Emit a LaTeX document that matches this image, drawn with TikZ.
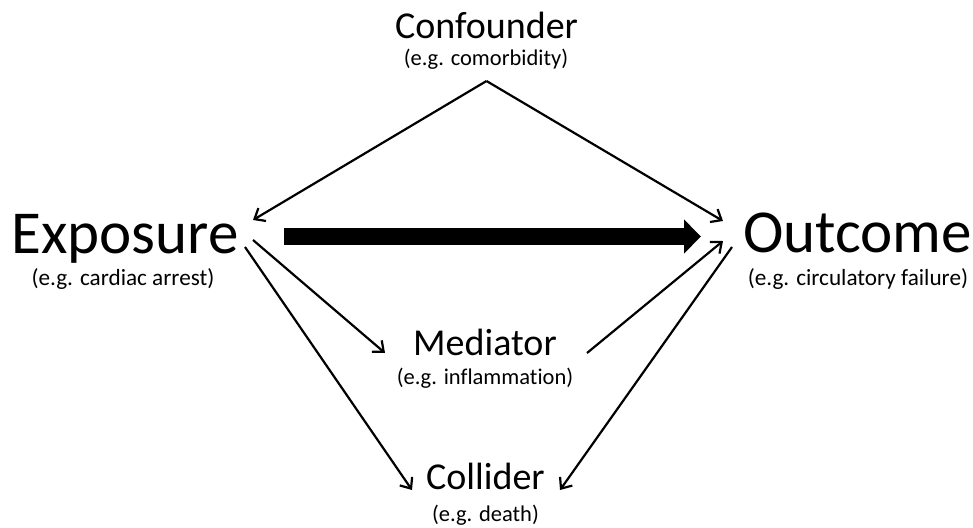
\documentclass[tikz,border=0pt]{standalone}
\usepackage{fontspec}
\setmainfont[Ligatures={NoCommon}]{Carlito}
\usetikzlibrary{arrows.meta}

\tikzset{
  title/.style={anchor=base, inner sep=0pt, font=\fontsize{38}{38}\selectfont},
  bigtitle/.style={anchor=base, inner sep=0pt, text depth=9pt, font=\fontsize{61}{61}\selectfont},
  example/.style={anchor=base, inner sep=0pt, font=\fontsize{22.5}{22.5}\selectfont},
  bigexample/.style={example, text height=14pt, font=\fontsize{23.2}{23.2}\selectfont},
  edge/.style={line width=2.2pt, -{Straight Barb[length=9pt,width=15pt,line width=2.2pt]}},
  causal/.style={line width=17pt, -{Triangle[length=17pt,width=33pt]}}
}

\begin{document}
\begin{tikzpicture}[x=1pt, y=-1pt]
  \useasboundingbox (0,0) rectangle (973,527);

  % variables
  \node[title]      (conf)    at (486.5,39)  {Confounder};
  \node[example]    (confsub) at (486,66)    {(e.g. comorbidity)};
  \node[bigtitle]   (exp)     at (125,253)   {Exposure};
  \node[bigexample] (expsub)  at (123,285)   {(e.g. cardiac arrest)};
  \node[bigtitle]   (out)     at (857.5,252) {Outcome};
  \node[bigexample] (outsub)  at (858,285)   {(e.g. circulatory failure)};
  \node[title]      (med)     at (485,355)   {Mediator};
  \node[example]    (medsub)  at (485,384)   {(e.g. inflammation)};
  \node[title]      (col)     at (485.5,489) {Collider};
  \node[example]    (colsub)  at (485.5,521) {(e.g. death)};

  % connector ports
  \coordinate (confApex) at (486.5,81);
  \coordinate (expIn)    at (253,220);
  \coordinate (outInC)   at (723,221);
  \coordinate (outInM)   at (723,241);
  \coordinate (expOutM)  at (253,240);
  \coordinate (expOutC)  at (245,247);
  \coordinate (outOutC)  at (732,247);
  \coordinate (medIn)    at (385,353);
  \coordinate (medOut)   at (587,353);
  \coordinate (colInL)   at (412,490);
  \coordinate (colInR)   at (560,490);
  \coordinate (causeFrom) at (284,236.5);
  \coordinate (causeTo)   at (701,236.5);

  % edges
  \draw[edge] (confApex) -- (expIn);
  \draw[edge] (confApex) -- (outInC);
  \draw[causal] (causeFrom) -- (causeTo);
  \draw[edge] (expOutM) -- (medIn);
  \draw[edge] (medOut) -- (outInM);
  \draw[edge] (expOutC) -- (colInL);
  \draw[edge] (outOutC) -- (colInR);
\end{tikzpicture}
\end{document}
